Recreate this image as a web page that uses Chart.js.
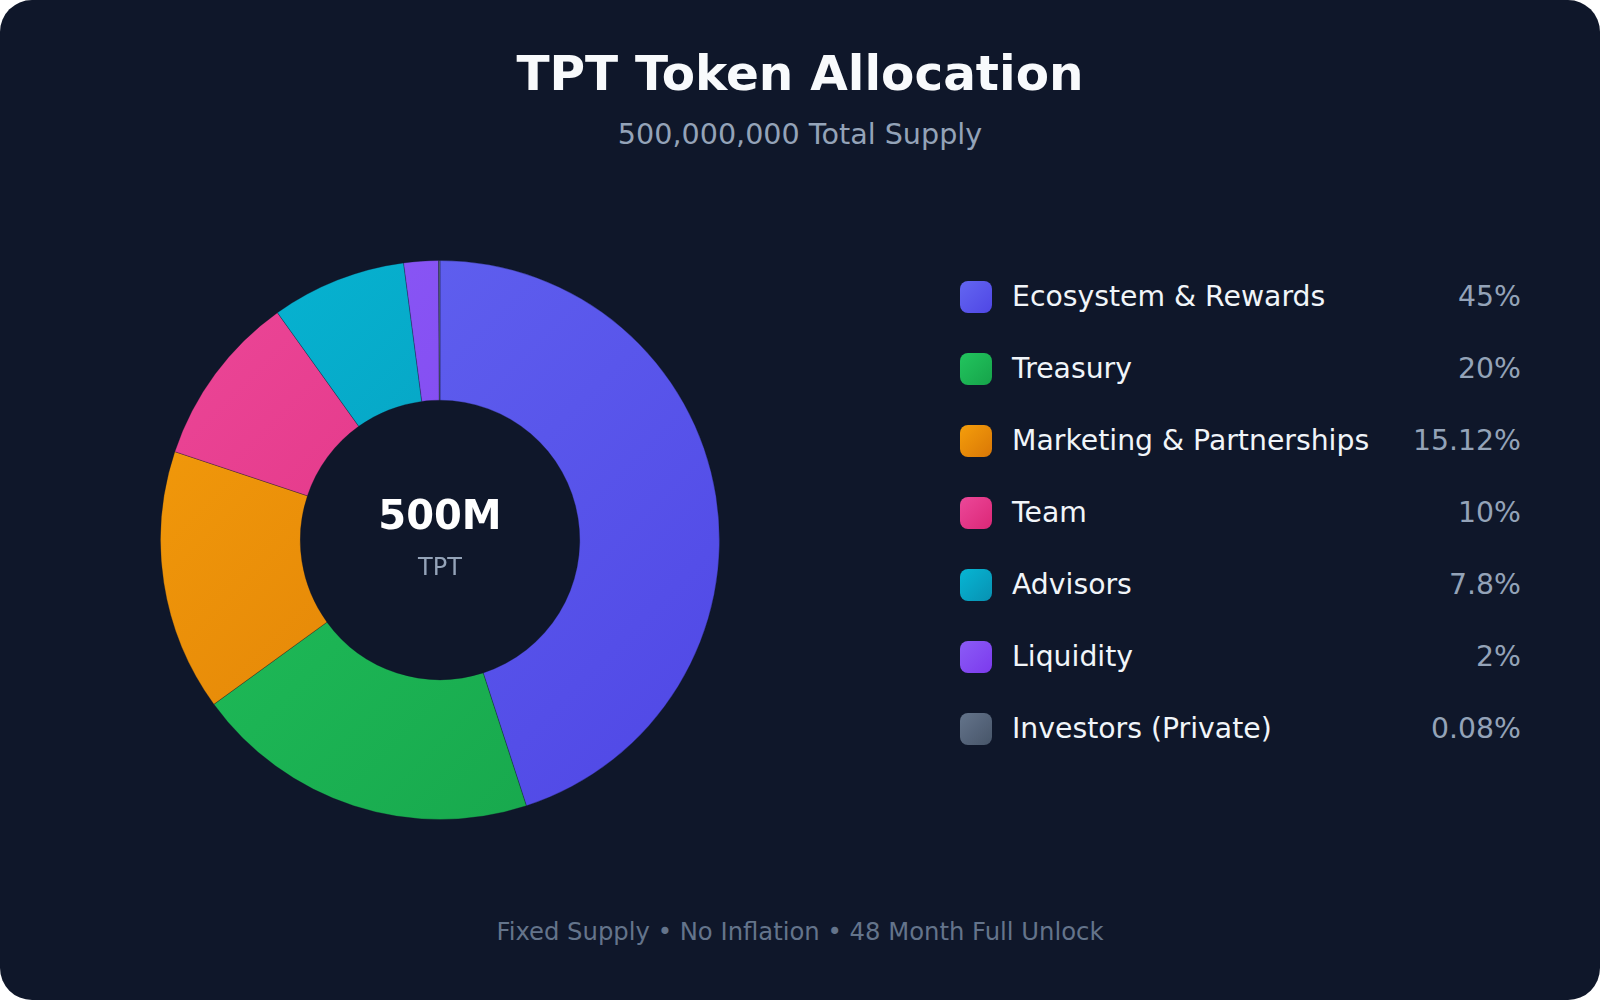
<!DOCTYPE html>
<html>
<head>
<meta charset="utf-8">
<script src="https://cdn.jsdelivr.net/npm/chart.js@4.4.1/dist/chart.umd.min.js"></script>
<style>
    html, body {
        margin: 0;
        padding: 0;
        background: #ffffff;
    }
    .card {
        position: relative;
        width: 1600px;
        height: 1000px;
        background: #0f172a;
        border-radius: 32px;
        overflow: hidden;
        font-family: "DejaVu Sans", sans-serif;
    }
    .title {
        position: absolute;
        left: 0;
        width: 1600px;
        text-align: center;
        line-height: 1;
        white-space: nowrap;
    }
    #title {
        top: 49px;
        font-size: 48.5px;
        font-weight: bold;
        color: #f8fafc;
    }
    #subtitle {
        top: 120px;
        font-size: 28.6px;
        color: #94a3b8;
    }
    #footer {
        top: 920px;
        font-size: 24.3px;
        color: #64748b;
    }
    .chart-box {
        position: absolute;
        left: 160px;
        top: 260px;
        width: 560px;
        height: 560px;
    }
    #legend {
        position: absolute;
        left: 960px;
        top: 281px;
        width: 561px;
    }
    .row {
        display: flex;
        align-items: center;
        height: 32px;
        margin-bottom: 40px;
        font-size: 28.3px;
        line-height: 32px;
        white-space: nowrap;
    }
    .swatch {
        width: 32px;
        height: 32px;
        border-radius: 8px;
        flex: none;
    }
    .label {
        margin-left: 20px;
        color: #f1f5f9;
    }
    .pct {
        margin-left: auto;
        color: #94a3b8;
    }
</style>
</head>
<body>
<div class="card">
    <div class="title" id="title">TPT Token Allocation</div>
    <div class="title" id="subtitle">500,000,000 Total Supply</div>
    <div class="chart-box"><canvas id="allocationChart"></canvas></div>
    <div id="legend"></div>
    <div class="title" id="footer">Fixed Supply • No Inflation • 48 Month Full Unlock</div>
</div>
<script>
const categories = ['Ecosystem & Rewards', 'Treasury', 'Marketing & Partnerships', 'Team', 'Advisors', 'Liquidity', 'Investors (Private)'];
const shares = [45, 20, 15.12, 10, 7.8, 2, 0.08];
const lightColors = ['#6366f1', '#22c55e', '#f59e0b', '#ec4899', '#06b6d4', '#8b5cf6', '#64748b'];
const darkColors = ['#4f46e5', '#16a34a', '#d97706', '#db2777', '#0891b2', '#7c3aed', '#475569'];
const centerValue = '500M';
const centerUnit = 'TPT';

document.addEventListener('DOMContentLoaded', function() {
    const ctx = document.getElementById('allocationChart')?.getContext('2d');

    if (!ctx) {
        console.error('Canvas context not found.');
        return;
    }

    // legend rows on the right, built from the same arrays
    const legend = document.getElementById('legend');
    categories.forEach((name, i) => {
        const row = document.createElement('div');
        row.className = 'row';
        row.innerHTML =
            '<span class="swatch" style="background:linear-gradient(135deg,' + lightColors[i] + ',' + darkColors[i] + ')"></span>' +
            '<span class="label"></span><span class="pct"></span>';
        row.querySelector('.label').textContent = name;
        row.querySelector('.pct').textContent = shares[i] + '%';
        legend.appendChild(row);
    });

    function sliceGradient(context) {
        const chart = context.chart;
        const area = chart.chartArea;
        const i = context.dataIndex;
        if (!area) return lightColors[i];
        const g = chart.ctx.createLinearGradient(area.left, area.top, area.right, area.bottom);
        g.addColorStop(0, lightColors[i]);
        g.addColorStop(1, darkColors[i]);
        return g;
    }

    const centerText = {
        id: 'centerText',
        afterDraw(chart) {
            const meta = chart.getDatasetMeta(0);
            if (!meta.data.length) return;
            const { x, y } = meta.data[0];
            const c = chart.ctx;
            c.save();
            c.textAlign = 'center';
            c.textBaseline = 'alphabetic';
            c.fillStyle = '#ffffff';
            c.font = 'bold 40px "DejaVu Sans"';
            c.fillText(centerValue, x, y - 11);
            c.fillStyle = '#94a3b8';
            c.font = '24px "DejaVu Sans"';
            c.fillText(centerUnit, x, y + 35);
            c.restore();
        }
    };

    new Chart(ctx, {
        type: 'doughnut',
        data: {
            labels: categories,
            datasets: [{
                data: shares,
                backgroundColor: sliceGradient,
                borderColor: 'rgba(15, 23, 42, 0.3)',
                borderWidth: 1
            }]
        },
        options: {
            responsive: true,
            maintainAspectRatio: false,
            animation: false,
            cutout: '50%',
            layout: { padding: 0 },
            events: [],
            plugins: {
                legend: { display: false },
                tooltip: { enabled: false }
            }
        },
        plugins: [centerText]
    });
});
</script>
</body>
</html>
